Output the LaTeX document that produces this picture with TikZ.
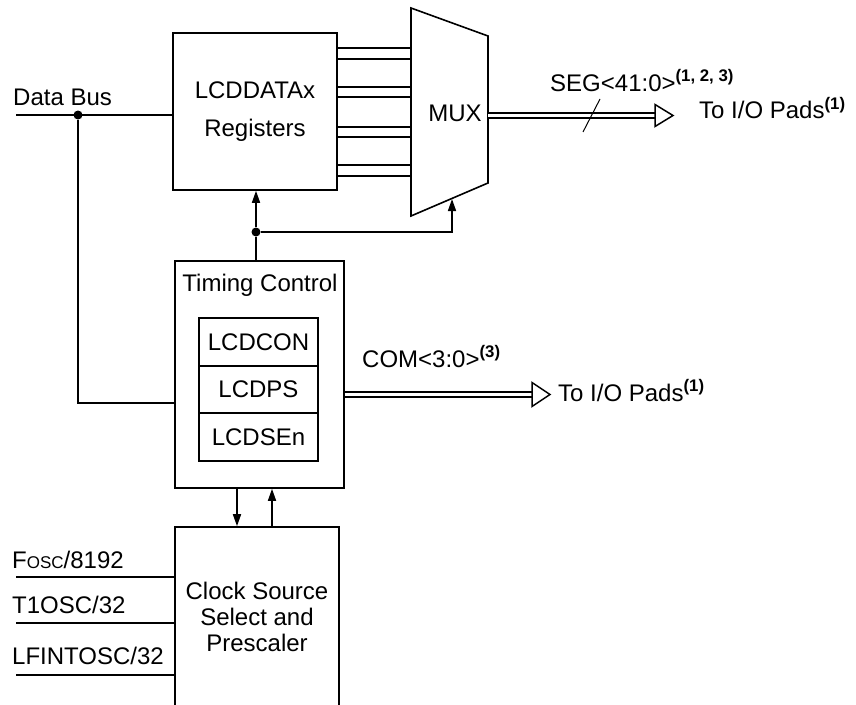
\documentclass[tikz,border=0pt]{standalone}
\usepackage{fontspec}
\setmainfont{Liberation Sans}
\usetikzlibrary{arrows.meta, calc}

\begin{document}
\begin{tikzpicture}[x=1pt, y=-1pt,
  every node/.style={font=\fontsize{24}{26}\selectfont},
  blk/.style={rectangle, draw, line width=1.6pt, inner sep=0pt},
  reg/.style={blk, minimum width=119pt, minimum height=47.5pt},
  lbl/.style={anchor=base west, inner sep=0pt},
  wire/.style={line width=1.6pt},
  arr/.style={wire, -{Triangle[length=12pt, width=8pt]}},
  bus/.style={double, double distance=3.5pt, line width=1.5pt},
  head/.style={line width=1.5pt, fill=white, line join=miter},
  dot/.style={circle, fill, inner sep=0pt, minimum size=9pt},
]
\useasboundingbox (0,0) rectangle (856,704);
\clip (0,0) rectangle (856,704);

% Registros y MUX
\node[blk, minimum width=164pt, minimum height=157pt, align=center]
  at (255,111.5) (regs) {LCDDATAx\\[12pt]Registers};
\coordinate (muxtl) at (411,8);
\coordinate (muxtr) at (488,36);
\coordinate (muxbr) at (488,183);
\coordinate (muxbl) at (411,216);
\draw[wire, line join=miter] (muxtl) -- (muxtr) -- (muxbr) -- (muxbl) -- cycle;
\node at (455,113) (mux) {MUX};

% Bus registros -> MUX
\foreach \y in {48,59,87,97,127,137,165,176}
  \draw[wire] (regs.east |- 0,\y) -- (muxtl |- 0,\y);

% Timing Control
\node[blk, minimum width=169pt, minimum height=227pt] at (259.5,374.5) (tc) {};
\node[anchor=base, inner sep=0pt] at (260,291) (tctitle) {Timing Control};
\node[reg] at (258.5,342)   (lcdcon) {LCDCON};
\node[reg] at (258.5,389.5) (lcdps)  {LCDPS};
\node[reg] at (258.5,437)   (lcdsen) {LCDSEn};

% Clock Source
\node[blk, minimum width=164pt, minimum height=180pt, align=center]
  at (257,617) (clk) {Clock Source\\Select and\\Prescaler};

% Data Bus
\coordinate (dbin) at (16,115);
\node[dot] at (78,115) (dbj) {};
\node[lbl] at (13,105) (dblabel) {Data Bus};
\draw[wire] (dbin) -- (regs.west |- dbin);
\draw[wire] (dbj) |- (tc.west |- 0,403);

% Realimentacion hacia registros y MUX
\node[dot] at (256,232) (fbj) {};
\coordinate (muxin) at (452,199);
\draw[wire] (fbj |- tc.north) -- (fbj);
\draw[arr] (fbj) -- (fbj |- regs.south);
\draw[arr] (fbj) -| (muxin);

% Salida SEG
\coordinate (segout) at (488,115.5);
\coordinate (segtip) at (673,115.5);
\coordinate (segcut) at (591.5,115.5);
\draw[bus, shorten >=18pt] (segout) -- (segtip);
\draw[head] (segtip) -- ++(-18,-11) -- ++(0,22) -- cycle;
\draw[line width=1pt] (segcut) ++(-8.5,16.5) -- ++(17,-33);
\node[lbl] at (550,91) (seglabel) {SEG<41:0>\textsuperscript{\bfseries(1, 2, 3)}};
\node[lbl] at (699,118.5) (segpads) {To I/O Pads\textsuperscript{\bfseries(1)}};

% Salida COM
\coordinate (comtip) at (550,394.5);
\draw[bus, shorten >=18pt] (tc.east |- comtip) -- (comtip);
\draw[head] (comtip) -- ++(-18,-12) -- ++(0,24) -- cycle;
\node[lbl] at (362,367) (comlabel) {COM<3:0>\textsuperscript{\bfseries(3)}};
\node[lbl] at (558,401) (compads) {To I/O Pads\textsuperscript{\bfseries(1)}};

% Timing <-> Clock
\draw[arr] ([xshift=-22.5pt]tc.south) -- ([xshift=-22.5pt]tc.south |- clk.north);
\draw[arr] ([xshift=12.5pt]tc.south |- clk.north) -- ([xshift=12.5pt]tc.south);

% Entradas de reloj
\foreach \y [count=\i] in {577,623,675}
  \coordinate (src\i) at (16,\y);
\foreach \i in {1,2,3}
  \draw[wire] (src\i) -- (clk.west |- src\i);
\node[lbl] at (12,568) (fosc) {F{\fontsize{17}{17}\selectfont OSC}/8192};
\node[lbl] at (12,613) (t1osc) {T1OSC/32};
\node[lbl] at (12,664) (lfosc) {LFINTOSC/32};

\end{tikzpicture}
\end{document}
